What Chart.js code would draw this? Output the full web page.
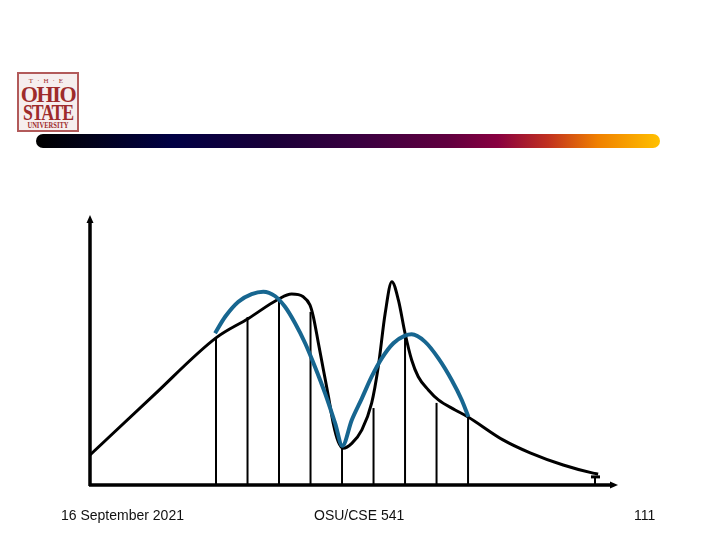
<!DOCTYPE html>
<html>
<head>
<meta charset="utf-8">
<script src="https://cdn.jsdelivr.net/npm/chart.js@4/dist/chart.umd.min.js"></script>
<style>
  html, body { margin: 0; padding: 0; background: #fff; }
  #page { position: relative; width: 720px; height: 540px; overflow: hidden; }
  #chartBox { position: absolute; left: 0; top: 0; width: 720px; height: 540px; }
  .logo { position: absolute; left: 17px; top: 72px; width: 58px; height: 56px; border: 2px solid #b25a5a;
          background: #f6eeee; font-family: "Liberation Serif", "DejaVu Serif", serif; color: #9e2b2b; overflow: hidden; }
  .logo div { display: flex; justify-content: center; white-space: nowrap; }
  .logo .the { font-size: 7px; letter-spacing: 4px; margin-top: 3px; line-height: 8px; }
  .logo .big { font-size: 24px; font-weight: bold; line-height: 18px; letter-spacing: -1.5px; }
  .logo .uni { font-size: 8px; line-height: 10px; font-weight: bold; }
  .bar { position: absolute; left: 36px; top: 134px; width: 624px; height: 14px; border-radius: 7px;
         background: linear-gradient(to right, #000 0%, #020218 8%, #000044 22%, #1a0038 38%, #3a0040 52%, #60003f 66%, #880040 74%, #c03020 82%, #f08000 90%, #ffc000 100%); }
  .foot { position: absolute; top: 507px; font-family: "Liberation Sans", Arial, sans-serif; font-size: 14px; color: #111; }
</style>
</head>
<body>
<div id="page">
  <div class="logo">
    <div class="the">T·H·E</div>
    <div class="big" style="transform: scaleX(0.92)">OHIO</div>
    <div class="big" style="transform: scaleX(0.74)">STATE</div>
    <div class="uni" style="transform: scaleX(0.82)">UNIVERSITY</div>
  </div>
  <div class="bar"></div>
  <div id="chartBox"><canvas id="signalChart"></canvas></div>
  <div class="foot" style="left:61px">16 September 2021</div>
  <div class="foot" style="left:314px">OSU/CSE 541</div>
  <div class="foot" style="left:634px">111</div>
</div>
<script>
// original signal (black)
const signalX = [0, 2, 4, 5.03, 5.98, 6.40, 6.77, 6.98, 7.09, 7.25, 7.41, 7.57, 7.72, 7.88, 8.04, 8.31, 8.63, 8.94, 9.15, 9.37, 9.58, 9.79, 10.0, 10.21, 10.42, 10.74, 11.06, 11.59, 12.0, 13.11, 13.97, 15.02, 15.97, 16.13];
const signalY = [1.11, 3.30, 5.45, 6.17, 6.88, 7.07, 6.97, 6.67, 6.23, 5.25, 4.26, 3.27, 2.29, 1.60, 1.36, 1.54, 2.04, 3.03, 4.38, 6.36, 7.53, 6.85, 5.62, 4.63, 4.01, 3.52, 3.15, 2.78, 2.52, 1.67, 1.19, 0.74, 0.44, 0.41];

// reconstructed signal (blue)
const reconX = [3.97, 4.29, 4.71, 5.13, 5.50, 5.87, 6.19, 6.51, 6.83, 7.14, 7.46, 7.78, 8.01, 8.31, 8.63, 8.94, 9.26, 9.63, 10.0, 10.21, 10.63, 11.06, 11.48, 11.80, 12.01];
const reconY = [5.62, 6.23, 6.79, 7.07, 7.16, 7.00, 6.60, 5.99, 5.25, 4.38, 3.40, 2.29, 1.45, 2.41, 3.21, 4.01, 4.69, 5.25, 5.53, 5.58, 5.31, 4.69, 3.89, 3.15, 2.53];

// sample positions and heights (vertical lines)
const sampleX = [4, 5, 6, 7, 8, 9, 10, 11, 12, 16.03];
const sampleY = [5.48, 6.22, 6.96, 6.41, 1.37, 2.85, 5.56, 3.04, 2.52, 0.30];

const xMax = 16.76;
const yMax = 10;

const toPoints = (xs, ys) => xs.map((x, i) => ({ x: x, y: ys[i] }));

const axesAndSamples = {
    id: 'axesAndSamples',
    beforeDatasetsDraw(chart) {
        const ctx = chart.ctx;
        const xs = chart.scales.x, ys = chart.scales.y;
        const x0 = xs.getPixelForValue(0), y0 = ys.getPixelForValue(0);
        ctx.save();
        ctx.strokeStyle = '#000';
        ctx.lineWidth = 2;
        sampleX.forEach((sx, i) => {
            const px = xs.getPixelForValue(sx);
            const top = ys.getPixelForValue(sampleY[i]);
            ctx.beginPath();
            ctx.moveTo(px, y0);
            ctx.lineTo(px, top);
            ctx.stroke();
        });
        // little cap on the last sample
        const lx = xs.getPixelForValue(sampleX[sampleX.length - 1]);
        const ly = ys.getPixelForValue(sampleY[sampleY.length - 1]);
        ctx.lineWidth = 3;
        ctx.beginPath();
        ctx.moveTo(lx - 4, ly);
        ctx.lineTo(lx + 5, ly);
        ctx.stroke();

        // axes
        const xEnd = xs.getPixelForValue(xMax);
        const yEnd = ys.getPixelForValue(yMax);
        ctx.lineWidth = 3.5;
        ctx.beginPath();
        ctx.moveTo(x0, y0 + 1);
        ctx.lineTo(x0, yEnd + 6);
        ctx.moveTo(x0 - 1, y0);
        ctx.lineTo(xEnd - 6, y0);
        ctx.stroke();
        ctx.fillStyle = '#000';
        ctx.beginPath();
        ctx.moveTo(x0, yEnd);
        ctx.lineTo(x0 - 3.5, yEnd + 8);
        ctx.lineTo(x0 + 3.5, yEnd + 8);
        ctx.closePath();
        ctx.fill();
        ctx.beginPath();
        ctx.moveTo(xEnd, y0);
        ctx.lineTo(xEnd - 8, y0 - 3.5);
        ctx.lineTo(xEnd - 8, y0 + 3.5);
        ctx.closePath();
        ctx.fill();
        ctx.restore();
    }
};

new Chart(document.getElementById('signalChart'), {
    type: 'line',
    data: {
        datasets: [
            {
                label: 'Reconstructed',
                data: toPoints(reconX, reconY),
                borderColor: '#176690',
                borderWidth: 4,
                pointRadius: 0,
                cubicInterpolationMode: 'monotone',
                fill: false
            },
            {
                label: 'Signal',
                data: toPoints(signalX, signalY),
                borderColor: '#000000',
                borderWidth: 3,
                pointRadius: 0,
                cubicInterpolationMode: 'monotone',
                fill: false
            }
        ]
    },
    options: {
        responsive: true,
        maintainAspectRatio: false,
        animation: false,
        layout: { padding: { left: 90, right: 102, top: 215, bottom: 55 } },
        plugins: { legend: { display: false }, tooltip: { enabled: false } },
        scales: {
            x: { type: 'linear', display: false, min: 0, max: xMax },
            y: { type: 'linear', display: false, min: 0, max: yMax }
        }
    },
    plugins: [axesAndSamples]
});
</script>
</body>
</html>
